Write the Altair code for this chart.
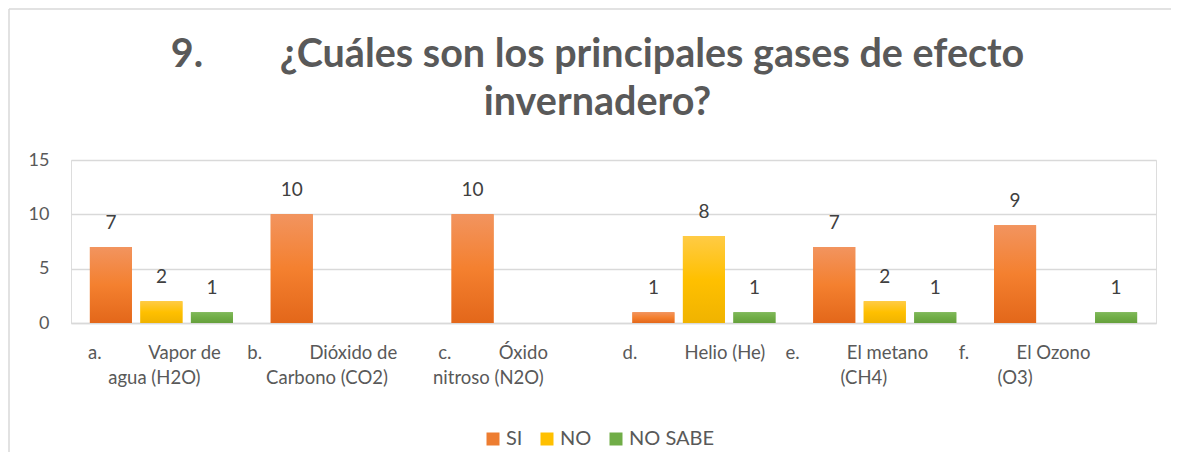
import json
import altair as alt
import pandas as pd

# ---------------- data ----------------
categories = [
    "a. Vapor de agua (H2O)",
    "b. Dióxido de Carbono (CO2)",
    "c. Óxido nitroso (N2O)",
    "d. Helio (He)",
    "e. El metano (CH4)",
    "f. El Ozono (O3)",
]
label_line1 = [("a.", "Vapor de"), ("b.", "Dióxido de"), ("c.", "Óxido"),
               ("d.", "Helio (He)"), ("e.", "El metano"), ("f.", "El Ozono")]
label_line2 = ["agua (H2O)", "Carbono (CO2)", "nitroso (N2O)", "", "(CH4)", "(O3)"]
series = ["SI", "NO", "NO SABE"]
si = [7, 10, 10, 1, 7, 9]
no = [2, 0, 0, 8, 2, 0]
no_sabe = [1, 0, 0, 1, 1, 1]
title_lines = ["9.", "¿Cuáles son los principales gases de efecto", "invernadero?"]

# ---------------- style ----------------
FONT = "Lato"
LAB_FS = 18.5
TITLE_FS = 39.5
NBSP_EM = 0.247   # measured advance of a no-break space in Lato, in em
colors = ["#ED7D31", "#FFC000", "#70AD47"]
gradients = [
    ["#F2945F", "#F4802F", "#E3671A"],
    ["#FFCB45", "#FFC000", "#F0B300"],
    ["#80B95A", "#70AD47", "#66A03C"],
]


def spaces(px, fs):
    """run of no-break spaces roughly px wide"""
    n = int(round(px / (NBSP_EM * fs)))
    return "\u00a0" * n


# per-label horizontal shift of the label block (px)
label_shift = [-7, -20, -30, -10, -28, -41]
# extra shift of the second line: >0 pads in front, <0 pads behind
line2_pad = [0, 11, -10, 0, 13, -19]
tab = spaces(44, LAB_FS)

display = []
for (a, b), l2, p2 in zip(label_line1, label_line2, line2_pad):
    lines = [a + tab + b]
    if l2:
        if p2 > 0:
            l2 = "\u2060" + spaces(p2, LAB_FS) + l2
        elif p2 < 0:
            l2 = l2 + spaces(-p2, LAB_FS) + "\u2060"
        lines.append(l2)
    display.append(lines)

label_expr = "{}[indexof({}, datum.value)]".format(
    json.dumps(display, ensure_ascii=False), json.dumps(categories, ensure_ascii=False)
)
label_offset = {
    "condition": [
        {"test": "datum.value == {}".format(json.dumps(c, ensure_ascii=False)), "value": sh}
        for c, sh in zip(categories, label_shift)
    ],
    "value": 0,
}

rows = []
for i, c in enumerate(categories):
    for s, vals in zip(series, [si, no, no_sabe]):
        rows.append({"categoria": c, "respuesta": s, "valor": vals[i]})
df = pd.DataFrame(rows)

W, H = 1085, 163

x_enc = alt.X(
    "categoria:N",
    sort=categories,
    scale=alt.Scale(domain=categories, paddingInner=0, paddingOuter=0),
    axis=alt.Axis(
        title=None, labelAngle=0, labelExpr=label_expr, labelFont=FONT,
        labelFontSize=LAB_FS, labelColor="#595959", labelPadding=20,
        labelBaseline="top", labelLineHeight=25, labelLimit=0, labelOverlap=False,
        labelOffset=label_offset,
        ticks=False, domainColor="#d9d9d9", domainWidth=1.3, grid=False,
    ),
)
xo_enc = alt.XOffset(
    "respuesta:N", sort=series,
    scale=alt.Scale(domain=series, paddingInner=0.168, paddingOuter=0.374),
)
y_enc = alt.Y(
    "valor:Q",
    scale=alt.Scale(domain=[0, 15], nice=False),
    axis=alt.Axis(
        title=None, values=[0, 5, 10, 15], labelFont=FONT, labelFontSize=18,
        labelColor="#595959", labelPadding=22, ticks=False, domain=False,
        gridColor="#d9d9d9", gridWidth=1.3, minExtent=62, maxExtent=62,
    ),
)

base = alt.Chart(df).transform_filter(alt.datum.valor > 0)

bars = base.mark_bar().encode(
    x=x_enc, xOffset=xo_enc, y=y_enc,
    color=alt.Color(
        "respuesta:N", sort=series,
        scale=alt.Scale(domain=series, range=colors),
        legend=alt.Legend(
            title=None, orient="none", direction="horizontal", legendX=412,
            legendY=269, symbolType="square", symbolSize=169, symbolStrokeWidth=0,
            labelFont=FONT, labelFontSize=20, labelColor="#595959",
            labelOffset=3, columnPadding=14,
        ),
    ),
)

overlays = []
for s, g in zip(series, gradients):
    grad = alt.Gradient(
        gradient="linear", x1=0, x2=0, y1=0, y2=1,
        stops=[alt.GradientStop(offset=0, color=g[0]),
               alt.GradientStop(offset=0.5, color=g[1]),
               alt.GradientStop(offset=1, color=g[2])],
    )
    overlays.append(
        base.transform_filter(alt.datum.respuesta == s)
        .mark_bar(color=grad)
        .encode(x=x_enc, xOffset=xo_enc, y=y_enc)
    )

text = base.mark_text(
    dy=-24, font=FONT, fontSize=19, color="#404040", baseline="middle"
).encode(x=x_enc, xOffset=xo_enc, y=y_enc, text="valor:Q")

frame_df = pd.DataFrame({"k": [0]})
left_line = alt.Chart(frame_df).mark_rule(color="#d9d9d9", strokeWidth=1.5).encode(
    x=alt.value(-62), y=alt.value(-151), y2=alt.value(292)
)
top_line = alt.Chart(frame_df).mark_rule(color="#d9d9d9", strokeWidth=1.5).encode(
    x=alt.value(-62), x2=alt.value(1100), y=alt.value(-151)
)

title_text = [title_lines[0] + spaces(80, TITLE_FS) + title_lines[1], title_lines[2]]

chart = alt.layer(left_line, top_line, bars, *overlays, text).properties(
    width=W, height=H,
    padding=0,
    title=alt.TitleParams(
        text=title_text, font=FONT, fontSize=TITLE_FS, fontWeight="bold",
        color="#595959", anchor="middle", frame="group", dx=-16, dy=115,
        lineHeight=48, offset=0,
    ),
).configure_view(stroke=None).configure(background="white")

chart.save("out.html", embed_options={"renderer": "svg", "actions": False})
